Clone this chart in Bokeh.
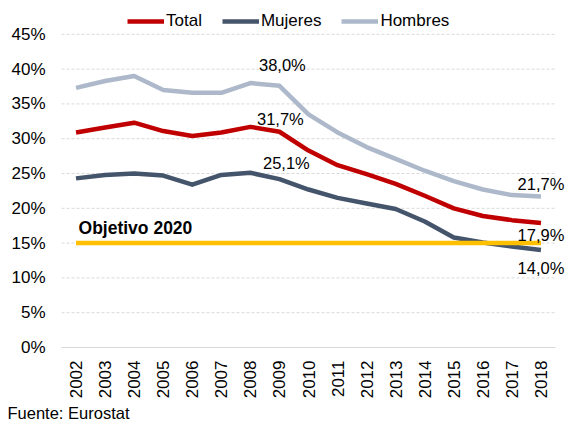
from bokeh.plotting import figure
from bokeh.models import (Range1d, FixedTicker, PrintfTickFormatter,
                          Legend, LegendItem, Title, LabelSet, ColumnDataSource)
from bokeh.core.properties import value
from bokeh.embed import file_html
from bokeh.resources import INLINE
from math import pi

# ---- data ----
years = ["2002", "2003", "2004", "2005", "2006", "2007", "2008", "2009", "2010",
         "2011", "2012", "2013", "2014", "2015", "2016", "2017", "2018"]
total = [30.9, 31.6, 32.3, 31.1, 30.4, 30.9, 31.7, 31.0, 28.3,
         26.2, 24.9, 23.5, 21.8, 20.0, 18.9, 18.3, 17.9]
mujeres = [24.3, 24.8, 25.0, 24.7, 23.4, 24.8, 25.1, 24.2, 22.7,
           21.5, 20.7, 19.9, 18.1, 15.8, 15.1, 14.5, 14.0]
hombres = [37.3, 38.3, 39.0, 37.0, 36.6, 36.6, 38.0, 37.6, 33.5,
           30.9, 28.8, 27.1, 25.4, 23.9, 22.7, 21.9, 21.7]
objetivo = [15.0, 15.0, 15.0, 15.0, 15.0, 15.0, 15.0, 15.0, 15.0,
            15.0, 15.0, 15.0, 15.0, 15.0, 15.0, 15.0, 15.0]
series_names = ["Total", "Mujeres", "Hombres"]
y_ticks = [0, 5, 10, 15, 20, 25, 30, 35, 40, 45]
objetivo_label = "Objetivo 2020"
source_note = "Fuente: Eurostat"
# points that carry a value label: (series index, year)
labelled = [(2, "2008"), (0, "2008"), (1, "2008"), (2, "2018"), (0, "2018"), (1, "2018")]

# ---- styles / layout ----
FONT = "Liberation Sans"
colors = ["#C00000", "#44546A", "#ADB9CA"]
gold = "#FFC000"
grid_color = "#D9D9D9"
lab_dx = [32, 30, 36, 0, 0, 0]      # px, right
lab_dy = [18, 8, 10, 12, -12, -18]  # px, up
W, H = 565, 421
LEFT, PLOT_W = 61, 494              # category area: 61..555 px

xn = [int(y) for y in years]
x_start = xn[0] - 0.5
x_cat_end = xn[-1] + 0.5
x_end = x_start + (x_cat_end - x_start) * (W - LEFT) / PLOT_W

p = figure(width=W, height=H, output_backend="svg", toolbar_location=None,
           x_range=Range1d(x_start, x_end), y_range=Range1d(0, 49.86),
           min_border_left=LEFT, min_border_right=0, min_border_top=0,
           min_border_bottom=74)
p.outline_line_color = None
p.background_fill_color = "white"
p.border_fill_color = "white"

# grid (horizontal dashed lines over the category area only)
p.xgrid.visible = False
p.ygrid.visible = False
p.segment(x0=[x_start] * len(y_ticks), x1=[x_cat_end] * len(y_ticks), y0=y_ticks, y1=y_ticks,
          line_color=grid_color, line_dash="3 2", line_width=1)

# y axis
p.yaxis.ticker = FixedTicker(ticks=y_ticks)
p.yaxis.formatter = PrintfTickFormatter(format="%d%%")
p.yaxis.axis_line_color = None
p.yaxis.major_tick_line_color = None
p.yaxis.minor_tick_line_color = None
p.yaxis.major_tick_out = 0
p.yaxis.major_tick_in = 0
p.yaxis.minor_tick_out = 0
p.yaxis.major_label_standoff = 16
p.yaxis.major_label_text_font = FONT
p.yaxis.major_label_text_font_size = "17px"
p.yaxis.major_label_text_color = "black"

# x axis
p.xaxis.ticker = FixedTicker(ticks=xn)
p.xaxis.major_label_overrides = {n: y for n, y in zip(xn, years)}
p.xaxis.bounds = (x_start, x_cat_end)
p.xaxis.axis_line_color = grid_color
p.xaxis.major_tick_line_color = None
p.xaxis.minor_tick_line_color = None
p.xaxis.major_tick_out = 0
p.xaxis.major_tick_in = 0
p.xaxis.minor_tick_out = 0
p.xaxis.major_label_orientation = pi / 2
p.xaxis.major_label_standoff = 13
p.xaxis.major_label_text_font = FONT
p.xaxis.major_label_text_font_size = "17px"
p.xaxis.major_label_text_color = "black"

data = [total, mujeres, hombres]
renderers = []
for name, vals, col in zip(series_names, data, colors):
    r = p.line(x=xn, y=vals, line_color=col, line_width=4.5, line_join="round")
    renderers.append(r)

p.line(x=xn, y=objetivo, line_color=gold, line_width=4.5)

# value labels
lx, ly, lt = [], [], []
for si, yr in labelled:
    i = years.index(yr)
    v = data[si][i]
    lx.append(xn[i])
    ly.append(v)
    lt.append(f"{v:.1f}%".replace(".", ","))
lab_src = ColumnDataSource(dict(x=lx, y=ly, text=lt, dx=lab_dx, dy=lab_dy))
p.add_layout(LabelSet(x="x", y="y", text="text", x_offset="dx", y_offset="dy",
                      source=lab_src, text_align="center", text_baseline="middle",
                      text_font=value(FONT), text_font_size="16.5px", text_color="black"))

# objetivo text
p.text(x=[xn[0]], y=[objetivo[0]], text=[objetivo_label], x_offset=2.5, y_offset=-15,
       text_align="left", text_baseline="middle", text_font=value(FONT),
       text_font_size="17.5px", text_font_style="bold", text_color="black")

# legend
legend = Legend(items=[LegendItem(label=n, renderers=[r]) for n, r in zip(series_names, renderers)],
                orientation="horizontal", location=(66, 316.5),
                glyph_width=37, glyph_height=20, label_standoff=2, spacing=20,
                padding=0, margin=0, border_line_color=None, background_fill_alpha=0,
                label_text_font=FONT, label_text_font_size="17px", label_text_color="black",
                label_height=20)
p.add_layout(legend, "center")

# source note
p.add_layout(Title(text=source_note, align="left", offset=-54, standoff=0,
                   text_font=FONT, text_font_size="16.5px", text_font_style="normal",
                   text_color="black"), "below")

open("out.html", "w").write(file_html(p, INLINE))
